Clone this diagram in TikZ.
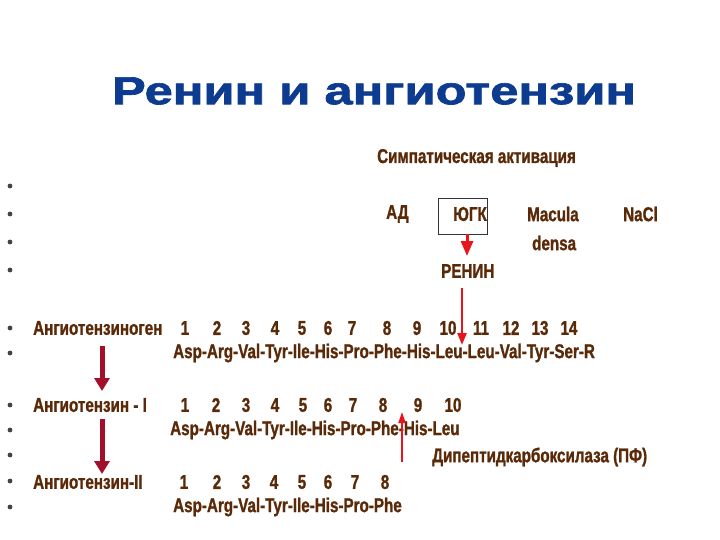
\documentclass[tikz,border=0pt]{standalone}
\usepackage{fontspec}
\usetikzlibrary{arrows.meta}
\newfontfamily\titlefnt[FakeBold=1.6]{Liberation Sans}
\newfontfamily\impfnt[FakeStretch=0.8, FakeBold=1.2]{Liberation Sans}
\definecolor{titleblue}{HTML}{0D3B8F}
\definecolor{brn}{HTML}{5A2A08}
\definecolor{bulletgray}{HTML}{4A4040}
\definecolor{darkcrimson}{HTML}{A3102C}
\definecolor{brightred}{HTML}{E8141B}
\tikzset{
	txt/.style={inner sep=0pt, text=brn, font=\impfnt\bfseries\fontsize{19}{19}\selectfont, yscale=1.05},
	num/.style={txt, anchor=center},
	fatarrow/.style={darkcrimson, line width=5pt, -{Triangle[width=15pt, length=13pt]}},
	redarrow/.style={brightred, line width=2.5pt, -{Triangle[width=9pt, length=12pt]}}
}
\begin{document}
\begin{tikzpicture}[x=1pt, y=-1pt]
	\useasboundingbox[fill=white] (0,0) rectangle (720,540);
	%--- titel
	\node (title) at (374,91) [inner sep=0pt, text=titleblue, font=\titlefnt\bfseries\fontsize{39}{39}\selectfont, xscale=1.3]{Ренин и ангиотензин};
	
	%--- bullets
	\foreach \y in {186,214,242,270,328,353,405,430,455,481,507}
		\fill[bulletgray] (10,\y) circle (2.4);
	
	%--- oben
	\node (simp) at (377,158) [txt, anchor=west]{Симпатическая активация};
	\node (ad) at (386,214) [txt, anchor=west]{АД};
	\node (yugk) at (487,214) [txt, anchor=east]{ЮГК};
	\draw[thin, black!80] (438,198) rectangle (487,234);
	\coordinate (boxs) at (467,234);
	\node (macula) at (527,214) [txt, anchor=west]{Macula};
	\node (densa) at (532,243) [txt, anchor=west]{densa};
	\node (nacl) at (623,214) [txt, anchor=west]{NaCl};
	\node (renin) at (441,271) [txt, anchor=west]{РЕНИН};
	\draw[brightred, line width=3pt, -{Triangle[width=12pt, length=15pt]}] (boxs) -- (467,256);
	
	%--- Angiotensinogen
	\node (angen) at (33,328) [txt, anchor=west]{Ангиотензиноген};
	\foreach \x [count=\i] in {185,217,246,275,302,328,352,387,417,448,481,511,540,569}
		\node (g\i) at (\x,328) [num]{\i};
	\node (seqg) at (173,353) [txt, anchor=west]{Asp-Arg-Val-Tyr-Ile-His-Pro-Phe-His-Leu-Leu-Val-Tyr-Ser-R};
	\coordinate (rstart) at (462,288);
	\coordinate (rend) at (462,345);
	\draw[redarrow] (rstart) -- (rend);
	
	%--- Angiotensin I
	\node (ang1) at (33,405) [txt, anchor=west]{Ангиотензин - I};
	\foreach \x [count=\i] in {185,216,246,275,303,328,353,383,418,453}
		\node (a\i) at (\x,405) [num]{\i};
	\node (seq1) at (170,430) [txt, anchor=west]{Asp-Arg-Val-Tyr-Ile-His-Pro-Phe-His-Leu};
	\coordinate (ustart) at (402,462);
	\coordinate (uend) at (402,412);
	\draw[brightred, line width=2pt, -{Triangle[width=7pt, length=11pt]}] (ustart) -- (uend);
	\node (dkf) at (432,457) [txt, anchor=west]{Дипептидкарбоксилаза (ПФ)};
	
	%--- Angiotensin II
	\node (ang2) at (33,482) [txt, anchor=west]{Ангиотензин-II};
	\foreach \x [count=\i] in {184,217,246,274,302,328,355,385}
		\node (b\i) at (\x,482) [num]{\i};
	\node (seq2) at (173,507) [txt, anchor=west]{Asp-Arg-Val-Tyr-Ile-His-Pro-Phe};
	
	%--- pfeile links
	\draw[fatarrow] (102,346) -- (102,391);
	\draw[fatarrow] (102,419) -- (102,474);
\end{tikzpicture}
\end{document}
